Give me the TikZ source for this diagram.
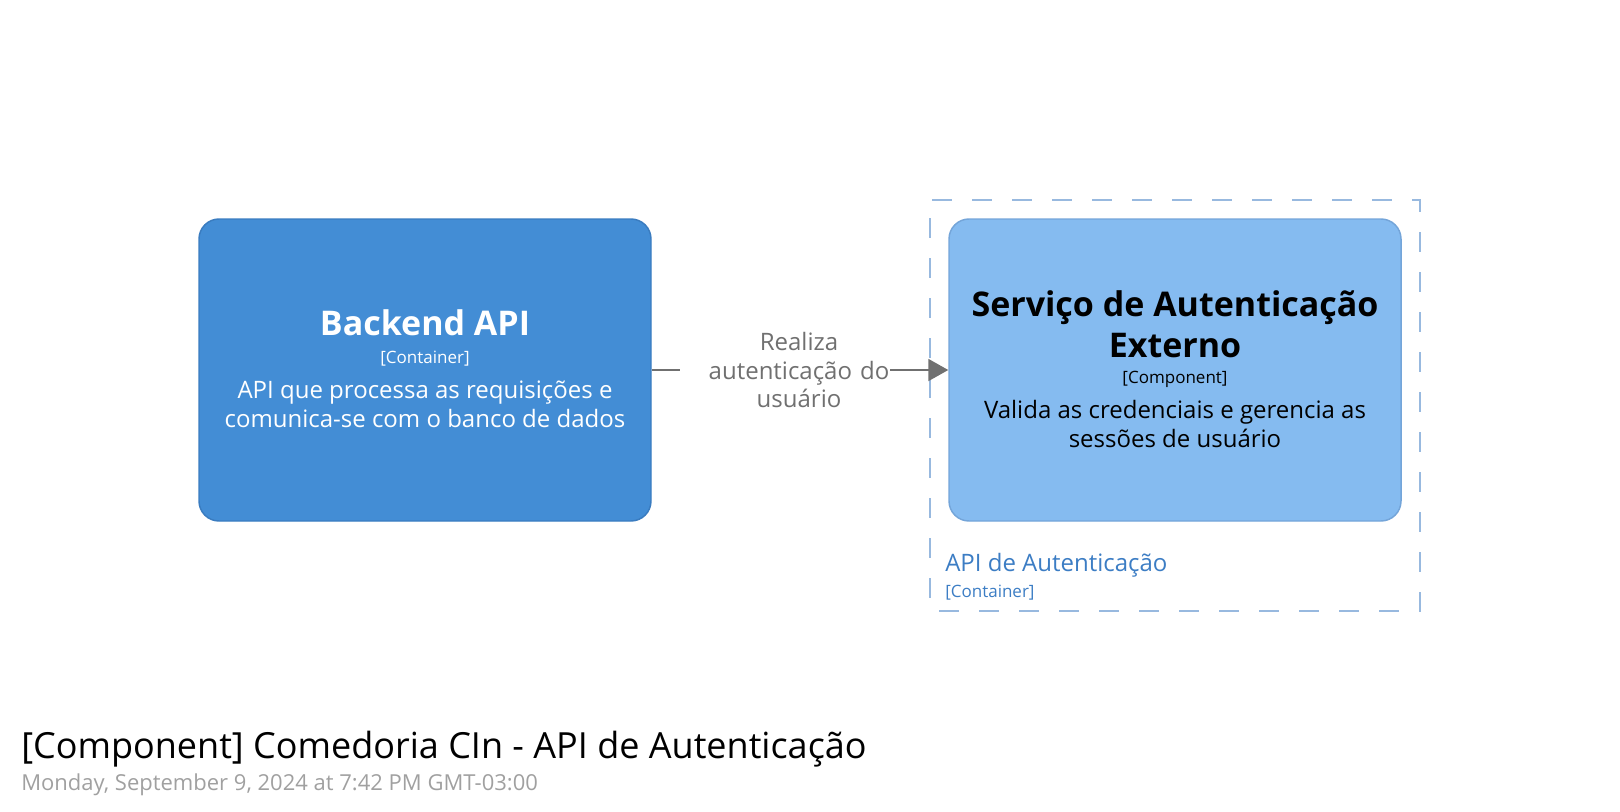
\documentclass[tikz,border=0pt]{standalone}
\usepackage{fontspec}
\setmainfont{Open Sans}
\usetikzlibrary{arrows.meta}
\definecolor{backendfill}{HTML}{438DD5}
\definecolor{backendline}{HTML}{3A7CC0}
\definecolor{compfill}{HTML}{85BBF0}
\definecolor{compline}{HTML}{74A5D9}
\definecolor{boundline}{HTML}{98B9DF}
\definecolor{boundtext}{HTML}{3C7DC4}
\definecolor{conngray}{HTML}{707070}
\definecolor{dategray}{HTML}{A0A0A0}
\tikzset{
  elembox/.style={rectangle, rounded corners=15pt, line width=1.1pt,
    minimum width=339pt, minimum height=226.5pt, inner sep=0pt},
  backendbox/.style={elembox, draw=backendline, fill=backendfill},
  compbox/.style={elembox, draw=compline, fill=compfill},
  boundarybox/.style={rectangle, draw=boundline, line width=1.3pt,
    dash pattern=on 15pt off 15pt, dash phase=-7pt, minimum width=367.5pt, minimum height=308.25pt, inner sep=0pt},
  nametext/.style={inner sep=0pt, align=center, font=\fontsize{25.5pt}{30.75pt}\selectfont\bfseries},
  metatext/.style={inner sep=0pt, font=\fontsize{12.75pt}{15pt}\selectfont},
  desctext/.style={inner sep=0pt, align=center, font=\fontsize{18pt}{21.4pt}\selectfont},
  conn/.style={draw=conngray, line width=1.5pt, -{Triangle[length=15pt,width=16.5pt]}},
  connlabel/.style={fill=white, inner xsep=0pt, inner ysep=2pt, text width=157.5pt, align=center,
    text=conngray, font=\fontsize{18pt}{21.4pt}\selectfont},
}
\begin{document}
\begin{tikzpicture}[x=0.75pt, y=-0.75pt]
\useasboundingbox (0,0) rectangle (1620,811);
% boundary
\node[boundarybox] (boundary) at (1175,405.5) {};
\node[anchor=base west, inner sep=0pt, text=boundtext, font=\fontsize{18pt}{21pt}\selectfont] (boundname) at (945,571) {API de Autenticação};
\node[anchor=base west, inner sep=0pt, text=boundtext, font=\fontsize{12.75pt}{15pt}\selectfont] (boundmeta) at (945,597) {[Container]};
% backend
\node[backendbox] (backend) at (425,370) {};
\node[nametext, text=white, anchor=base] (backendname) at (425,335) {Backend API};
\node[metatext, text=white, anchor=base] (backendmeta) at (425,363) {[Container]};
\node[desctext, text=white, anchor=base] (backenddesc) at (425,427) {API que processa as requisições e\\comunica-se com o banco de dados};
% component
\node[compbox] (comp) at (1175,370) {};
\node[nametext, text=black, anchor=base] (compname) at (1175,357) {Serviço de Autenticação\\Externo};
\node[metatext, text=black, anchor=base] (compmeta) at (1175,383) {[Component]};
\node[desctext, text=black, anchor=base] (compdesc) at (1175,447) {Valida as credenciais e gerencia as\\sessões de usuário};
% connector
\draw[conn] (backend.east) -- (comp.west);
\node[connlabel] (lbl) at (785,370) {\hspace*{21pt}Realiza\\\hspace*{21pt}autenticação do\\\hspace*{21pt}usuário};
% title
\node[anchor=base west, inner sep=0pt, font=\fontsize{27pt}{31pt}\selectfont] (title) at (21,758) {[Component] Comedoria CIn - API de Autenticação};
\node[anchor=base west, inner sep=0pt, text=dategray, font=\fontsize{16.5pt}{19pt}\selectfont] (date) at (21,790) {Monday, September 9, 2024 at 7:42 PM GMT-03:00};
\end{tikzpicture}
\end{document}
